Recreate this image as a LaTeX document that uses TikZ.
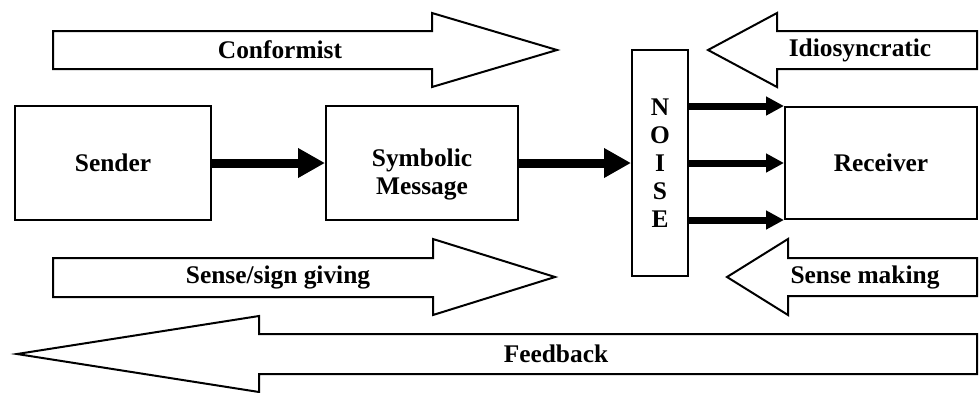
\documentclass[tikz,border=0pt]{standalone}
\usepackage{fontspec}
\setmainfont{Liberation Serif}
\usetikzlibrary{arrows.meta}

\begin{document}
\begin{tikzpicture}[x=0.5pt, y=-0.5pt,
    line width=1pt,
    lbl/.style={font=\bfseries\fontsize{12.7pt}{14pt}\selectfont},
    box/.style={draw, lbl, minimum width=96pt, minimum height=57pt, inner sep=0pt, align=center},
    block/.style={draw, fill=white, line join=miter},
    flow/.style={line width=4.5pt, -{Triangle[length=13.5pt, width=14pt]}},
    tap/.style={line width=3.5pt, -{Triangle[length=9pt, width=9pt]}}
]
  \useasboundingbox (0,0) rectangle (980,392);

  % Blockpfeile oben (Conformist / Idiosyncratic)
  \draw[block] (53,31) -- (432,31) -- (432,13) -- (557,50) -- (432,87) -- (432,69) -- (53,69) -- cycle;
  \node[lbl] (conf) at (280,50) {Conformist};
  \draw[block] (977,31) -- (777,31) -- (777,13) -- (708,50) -- (777,87) -- (777,69) -- (977,69) -- cycle;
  \node[lbl] (idio) at (860,50) {Idiosyncratic};

  % Kaesten in der Mitte
  \node[box, minimum width=98pt] (sender) at (113,163) {Sender};
  \node[box] (message) at (422,163) {};
  \node[lbl, align=center] (msgtext) at (422,174) {Symbolic\\Message};
  \node[box, minimum height=56pt] (receiver) at (881,163) {Receiver};
  \node[draw, lbl, minimum width=28pt, minimum height=113pt, inner sep=0pt, align=center] (noise) at (660,163) {N\\O\\I\\S\\E};

  % Verbindungen
  \draw[flow] (sender) -- (message);
  \draw[flow] (message) -- (noise);
  \draw[tap] (noise.east |- receiver.north west) -- (receiver.north west);
  \draw[tap] (noise.east |- receiver.west) -- (receiver.west);
  \draw[tap] (noise.east |- receiver.south west) -- (receiver.south west);

  % Blockpfeile unten (Sense giving / Sense making)
  \draw[block] (53,258) -- (433,258) -- (433,239) -- (555,277) -- (433,315) -- (433,297) -- (53,297) -- cycle;
  \node[lbl] (give) at (278,277) {Sense/sign giving};
  \draw[block] (977,258) -- (788,258) -- (788,239) -- (727,277) -- (788,315) -- (788,296) -- (977,296) -- cycle;
  \node[lbl] (make) at (865,277) {Sense making};

  % Rueckkopplung
  \draw[block] (977,334) -- (259,334) -- (259,316) -- (17,354) -- (259,392) -- (259,374) -- (977,374) -- cycle;
  \node[lbl] (fback) at (556,354) {Feedback};

\end{tikzpicture}
\end{document}
